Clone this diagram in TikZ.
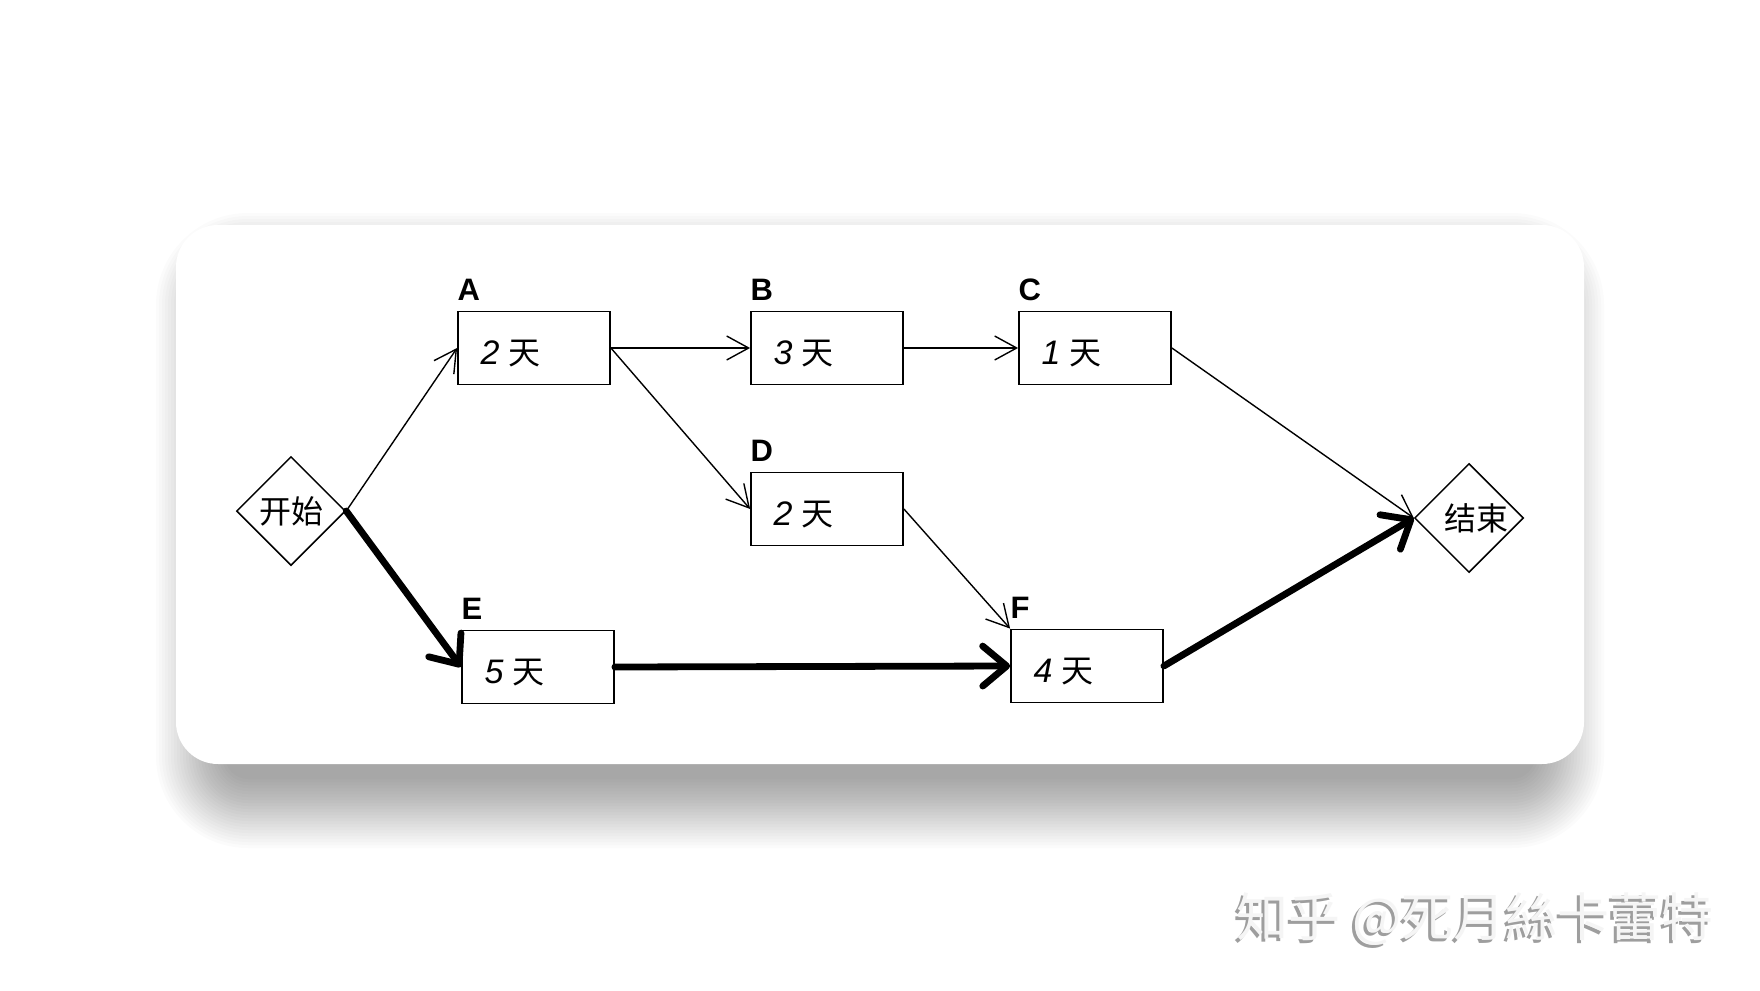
\documentclass[tikz,border=0pt]{standalone}
\usepackage{fontspec}
\setmainfont{Liberation Sans}
\newfontfamily\cjk{Noto Sans CJK SC}
\usetikzlibrary{arrows.meta,shapes.geometric,calc}
\begin{document}
\begin{tikzpicture}[x=0.5pt,y=-0.5pt,
  box/.style={draw, line width=0.9pt, minimum width=76pt, minimum height=36.5pt, inner sep=0pt},
  dia/.style={draw, diamond, aspect=1, line width=0.75pt, minimum width=54.5pt, minimum height=54.5pt, inner sep=0pt, font=\cjk\fontsize{16}{16}\selectfont},
  lab/.style={anchor=base west, inner sep=0pt, font=\fontsize{15.5}{15.5}\selectfont\bfseries},
  dur/.style={anchor=west, inner sep=0pt, font=\fontsize{17}{17}\selectfont},
  flow/.style={line width=0.7pt, -{Straight Barb[length=11pt,width=12pt]}},
  critical/.style={line width=3.4pt, line cap=round, -{Straight Barb[length=12pt,width=20pt,round]}},
  wm/.style={anchor=east, inner sep=0pt, font=\cjk\fontsize{26}{26}\selectfont},
]
\useasboundingbox (0,0) rectangle (1760,990);
\fill[white] (0,0) rectangle (1760,990);
% shadow
\foreach \e in {72,69,...,3}{
  \pgfmathsetmacro\rr{(20+\e)*0.5}
  \fill[black, opacity=0.016, rounded corners=\rr pt] (228-\e,285-\e) rectangle (1532+\e,776+\e);
}
% card
\fill[white, rounded corners=21pt] (176,225) rectangle (1584,764);

% nodes
\node[dia] (S) at (291,511) {开始};
\node[dia] (T) at (1469,518) {\makebox[0pt]{\hspace{7pt}结束}};

\node[box] (A) at (534,348) {};
\node[box] (B) at (827,348) {};
\node[box] (C) at (1095,348) {};
\node[box] (D) at (827,509) {};
\node[box] (E) at (538,667) {};
\node[box] (F) at (1087,666) {};

\foreach \n/\d in {A/2,B/3,C/1,D/2,E/5,F/4}{
  \node[lab] (l\n) at ($(\n.north west)+(0,-10)$) {\n};
  \node[dur] (d\n) at ($(\n.west)+(23,6)$) {\textit{\d} {\cjk\fontsize{16}{16}\selectfont 天}};
}

% connectors
\draw[flow] (S.east) -- (A.west);
\draw[flow] (A.east) -- (B.west);
\draw[flow] (A.east) -- (D.west);
\draw[flow] (B.east) -- (C.west);
\draw[flow] (C.east) -- (T.west);
\draw[flow] (D.east) -- (F.north west);
\draw[critical] (S.east) -- (E.west);
\draw[critical] (E.east) -- (F.west);
\draw[critical] (F.east) -- (T.west);

% watermark
\node[wm, text=black!38] (wm1) at (1711,922) {知乎 @死月絲卡蕾特};
\node[wm, text=black!4] (wm2) at (1714,919) {知乎 @死月絲卡蕾特};
\end{tikzpicture}
\end{document}
